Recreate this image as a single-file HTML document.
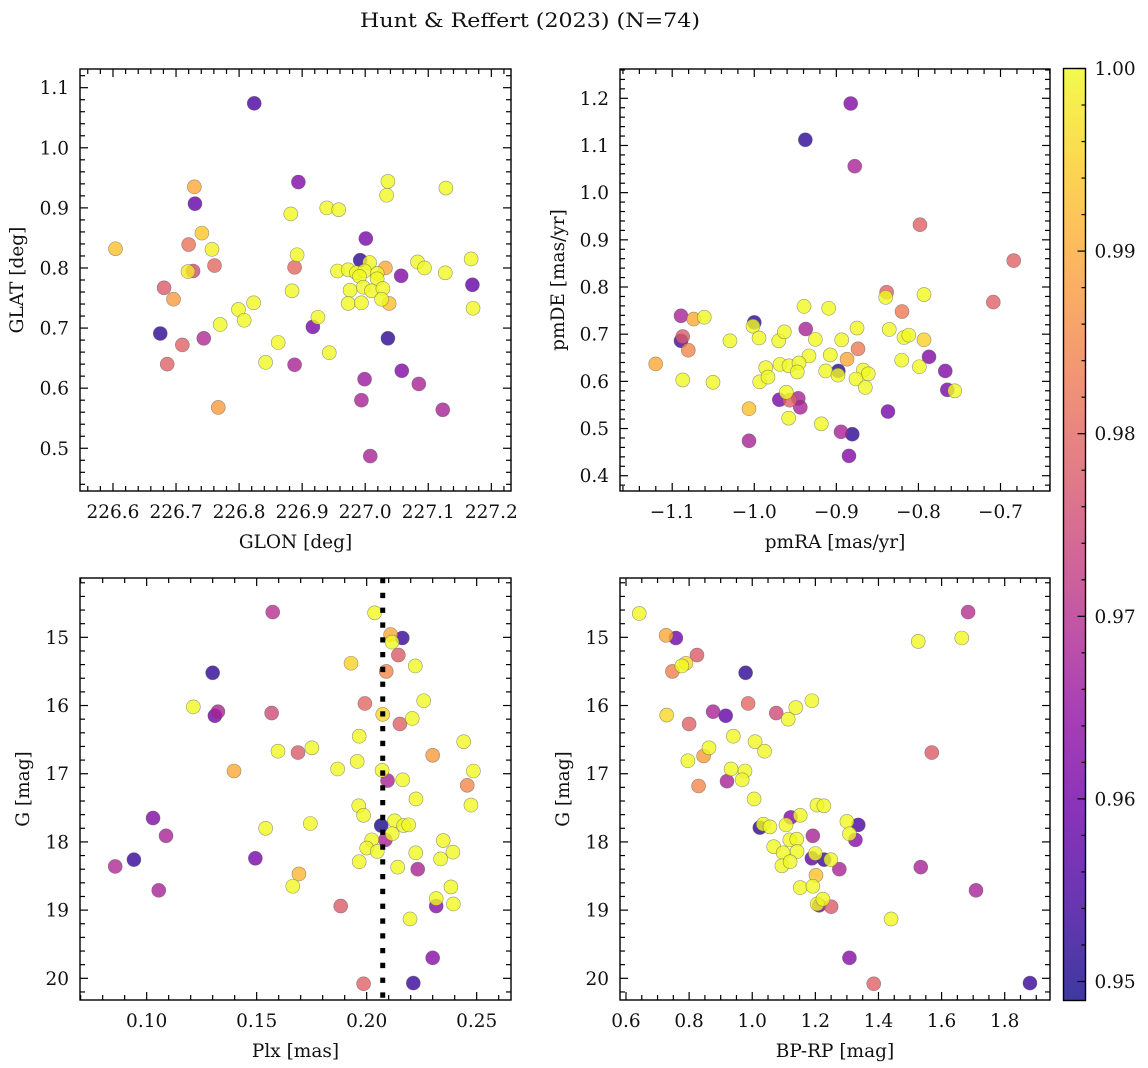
<!DOCTYPE html>
<html>
<head>
<meta charset="utf-8">
<style>
html,body{margin:0;padding:0;background:#fff;}
svg{display:block;}
text{font-family:"DejaVu Serif","Liberation Serif",serif;fill:#111;}
</style>
</head>
<body>
<svg id="fig" width="1148" height="1068" viewBox="0 0 1148 1068" xmlns="http://www.w3.org/2000/svg">
  <rect x="0" y="0" width="1148" height="1068" fill="#fff"/>
  <text x="530" y="27" text-anchor="middle" font-size="20" textLength="340" lengthAdjust="spacingAndGlyphs">Hunt &amp; Reffert (2023) (N=74)</text>
</svg>
<script>
// ---- data: [x, y, membership probability] ----
const skyStars = [
[226.824,1.074,.955],[226.729,0.935,.990],[226.730,0.907,.958],[226.741,0.858,.994],
[226.604,0.832,.993],[226.720,0.839,.982],[226.757,0.831,.999],[226.761,0.804,.980],
[226.727,0.795,.975],[226.719,0.794,.998],[226.681,0.767,.978],[226.696,0.748,.988],
[226.675,0.691,.952],[226.710,0.672,.979],[226.686,0.640,.979],[226.744,0.683,.969],
[226.770,0.706,1],[226.799,0.731,1],[226.808,0.713,1],[226.823,0.742,1],
[226.767,0.568,.988],[226.842,0.643,1],[226.862,0.676,1],[226.882,0.890,1],
[226.894,0.943,.962],[226.892,0.822,1],[226.888,0.801,.980],[226.884,0.762,1],
[226.888,0.639,.968],[226.939,0.900,1],[226.958,0.897,1],[226.925,0.718,1],
[226.917,0.702,.961],[226.943,0.659,1],[227.001,0.849,.961],[226.992,0.813,.952],
[227.007,0.809,1],[227.032,0.800,.990],[226.956,0.795,1],[226.973,0.797,1],
[226.986,0.792,1],[226.999,0.795,1],[227.019,0.791,1],[226.991,0.786,1],
[227.019,0.782,1],[226.976,0.763,1],[226.997,0.768,1],[227.010,0.762,1],
[227.028,0.766,1],[226.973,0.741,1],[226.994,0.742,1],[227.026,0.748,1],
[227.038,0.741,.993],[227.036,0.944,1],[227.034,0.921,1],[227.057,0.787,.962],
[227.036,0.683,.952],[227.083,0.810,1],[227.094,0.800,1],[227.128,0.933,1],
[227.127,0.792,1],[227.168,0.815,1],[227.170,0.772,.958],[227.171,0.733,1],
[227.058,0.629,.962],[226.999,0.615,.966],[226.994,0.580,.968],[227.085,0.607,.968],
[227.123,0.564,.968],[227.008,0.487,.968]
];
const pmStars = [
[-0.8825,1.189,.962],[-0.9378,1.112,.952],[-0.8776,1.056,.968],[-0.7981,0.932,.979],
[-0.6839,0.856,.979],[-0.7088,0.768,.979],[-0.8387,0.789,.979],[-0.8399,0.778,1],
[-0.7932,0.784,1],[-0.8200,0.748,.983],[-0.9394,0.759,1],[-0.9093,0.755,1],
[-1.0893,0.739,.968],[-1.0738,0.732,.990],[-1.0609,0.736,1],[-1.0000,0.725,.952],
[-1.0016,0.717,1],[-0.9373,0.711,.968],[-0.8748,0.713,1],[-0.8355,0.710,1],
[-1.0872,0.695,.978],[-1.0893,0.686,.955],[-1.0804,0.666,.985],[-1.0296,0.686,1],
[-0.9942,0.692,1],[-0.9702,0.686,1],[-0.9634,0.705,1],[-0.9256,0.689,1],
[-0.8935,0.688,1],[-0.8736,0.669,.983],[-0.8176,0.693,1],[-0.8118,0.698,1],
[-0.7932,0.688,.995],[-0.9333,0.654,1],[-0.9074,0.656,1],[-0.8870,0.647,.990],
[-1.1201,0.637,.990],[-0.9861,0.629,1],[-0.9687,0.636,1],[-0.9577,0.633,1],
[-0.9455,0.639,1],[-0.9476,0.620,1],[-0.9130,0.622,1],[-0.8976,0.622,.952],
[-0.8980,0.613,1],[-0.8204,0.645,1],[-0.7989,0.631,1],[-0.7871,0.652,.962],
[-0.7673,0.622,.962],[-0.7648,0.582,.961],[-0.7558,0.580,1],[-0.8672,0.624,1],
[-0.8611,0.616,1],[-0.8761,0.605,1],[-0.8647,0.587,1],[-1.0872,0.603,1],
[-1.0503,0.598,1],[-0.9934,0.599,1],[-0.9833,0.609,1],[-0.9610,0.577,1],
[-0.9695,0.561,.961],[-0.9568,0.560,.979],[-0.9464,0.564,.968],[-0.9439,0.545,.968],
[-1.0064,0.542,.993],[-0.9581,0.522,1],[-0.9183,0.510,1],[-0.8371,0.536,.961],
[-0.8943,0.493,.968],[-0.8806,0.488,.952],[-0.8846,0.442,.962],[-1.0064,0.474,.968]
];
const plxStars = [
[0.1573,14.63,.970],[0.1300,15.52,.952],[0.1212,16.02,1],[0.1324,16.09,.968],
[0.1310,16.15,.960],[0.1568,16.11,.975],[0.1597,16.67,1],[0.1688,16.69,.978],
[0.1397,16.96,.990],[0.1029,17.65,.962],[0.1088,17.91,.968],[0.0942,18.26,.953],
[0.0857,18.36,.969],[0.1055,18.71,.968],[0.1541,17.80,1],[0.1494,18.24,.961],
[0.1692,18.47,.992],[0.1664,18.65,1],[0.2036,14.64,1],[0.2109,14.96,.990],
[0.2162,15.01,.953],[0.2115,15.07,1],[0.2144,15.26,.978],[0.1929,15.38,.995],
[0.2221,15.42,1],[0.2089,15.50,.985],[0.2259,15.93,1],[0.1992,15.97,.980],
[0.2073,16.13,.996],[0.2151,16.27,.979],[0.2207,16.19,1],[0.1966,16.45,1],
[0.2441,16.53,1],[0.1751,16.62,1],[0.2300,16.73,.988],[0.1957,16.82,1],
[0.1868,16.93,1],[0.2070,16.95,1],[0.2485,16.96,1],[0.2095,17.10,.968],
[0.2164,17.09,1],[0.2457,17.17,.985],[0.2224,17.37,1],[0.1964,17.47,1],
[0.2474,17.46,1],[0.1986,17.61,1],[0.1744,17.73,1],[0.2066,17.76,.950],
[0.2127,17.69,1],[0.2168,17.76,1],[0.2191,17.75,1],[0.2116,17.88,1],
[0.2085,17.97,.968],[0.2023,17.97,1],[0.2000,18.09,1],[0.2048,18.14,1],
[0.2348,17.98,1],[0.2223,18.16,1],[0.2392,18.15,1],[0.2336,18.25,1],
[0.1966,18.29,1],[0.2141,18.37,1],[0.2232,18.40,.968],[0.2383,18.66,1],
[0.2316,18.83,1],[0.2316,18.94,.963],[0.2394,18.91,1],[0.1882,18.94,.978],
[0.2197,19.13,1],[0.2300,19.70,.963],[0.1986,20.08,.979],[0.2212,20.07,.953]
];
const cmdStars = [
[0.642,14.65,1],[0.727,14.97,.990],[0.758,15.01,.960],[0.825,15.26,.978],
[0.790,15.38,.996],[0.777,15.42,1],[0.747,15.50,.984],[0.979,15.52,.952],
[0.729,16.14,.996],[0.800,16.27,.979],[0.876,16.09,.968],[0.916,16.15,.958],
[0.987,15.97,.980],[1.076,16.11,.975],[1.114,16.20,1],[1.138,16.03,1],
[1.189,15.93,1],[0.940,16.45,1],[1.009,16.53,1],[1.039,16.67,1],
[0.863,16.62,1],[0.846,16.74,.988],[0.796,16.81,1],[0.933,16.93,1],
[0.977,16.96,1],[0.968,17.09,1],[0.920,17.11,.968],[0.830,17.18,.985],
[1.006,17.37,1],[1.205,17.46,1],[1.227,17.47,1],[1.122,17.64,.962],
[1.152,17.61,1],[1.024,17.79,.952],[1.035,17.74,1],[1.056,17.78,1],
[1.107,17.75,1],[1.300,17.70,1],[1.336,17.75,.955],[1.308,17.88,1],
[1.327,17.97,.963],[1.192,17.91,.968],[1.068,18.07,1],[1.119,17.97,1],
[1.141,17.96,1],[1.098,18.16,1],[1.142,18.14,1],[1.094,18.35,1],
[1.120,18.29,1],[1.189,18.24,.958],[1.200,18.17,1],[1.228,18.26,.953],
[1.249,18.26,1],[1.276,18.40,.968],[1.202,18.49,.993],[1.152,18.67,1],
[1.192,18.65,1],[1.212,18.93,.960],[1.206,18.91,1],[1.224,18.84,1],
[1.250,18.95,.978],[1.526,15.06,1],[1.664,15.01,1],[1.684,14.63,.970],
[1.569,16.69,.978],[1.440,19.13,1],[1.534,18.37,.968],[1.709,18.71,.968],
[1.308,19.70,.963],[1.385,20.08,.979],[1.880,20.07,.953]
];
const plxCut = [0.2073];
const colorLimits = [0.94896, 1.0];
const colorbarTicks = [0.95, 0.96, 0.97, 0.98, 0.99, 1.00];

// ---- plasma colormap ----
const plasmaStops = ["#0d0887","#41049d","#6a00a8","#8f0da4","#b12a90","#cc4778","#e16462","#f2844b","#fca636","#fcce25","#f0f921"];
function hex2rgb(h){return [parseInt(h.slice(1,3),16),parseInt(h.slice(3,5),16),parseInt(h.slice(5,7),16)];}
function plasma(t){
  t=Math.max(0,Math.min(1,t));
  const f=t*10, i=Math.min(9,Math.floor(f)), r=f-i;
  const a=hex2rgb(plasmaStops[i]), b=hex2rgb(plasmaStops[i+1]);
  return "rgb("+a.map((v,k)=>Math.round(v+(b[k]-v)*r)).join(",")+")";
}
function colorOf(p){return plasma((p-colorLimits[0])/(colorLimits[1]-colorLimits[0]));}

const NS="http://www.w3.org/2000/svg";
const svg=document.getElementById("fig");
function mk(tag,attrs,parent){
  const e=document.createElementNS(NS,tag);
  for(const k in attrs) e.setAttribute(k,attrs[k]);
  (parent||svg).appendChild(e);
  return e;
}
function fmt(v,dec){const s=Math.abs(v).toFixed(dec);return (v<-1e-9?"\u2212":"")+s;}
function tickVals(min,max,step){
  const out=[];const k0=Math.ceil(min/step-1e-6),k1=Math.floor(max/step+1e-6);
  for(let k=k0;k<=k1;k++) out.push(+(k*step).toFixed(6));
  return out;
}
const FS=18.5;

function panel(cfg){
  const g=mk("g",{});
  
  
  const L=cfg.box[0],T=cfg.box[1],R=cfg.box[2],B=cfg.box[3];
  const sx=v=>L+(v-cfg.xr[0])/(cfg.xr[1]-cfg.xr[0])*(R-L);
  const sy=cfg.invY ? (v=>T+(v-cfg.yr[0])/(cfg.yr[1]-cfg.yr[0])*(B-T))
                    : (v=>B-(v-cfg.yr[0])/(cfg.yr[1]-cfg.yr[0])*(B-T));
  const clipId="clip-"+cfg.name;
  const cp=mk("clipPath",{id:clipId},g);
  mk("rect",{x:L,y:T,width:R-L,height:B-T},cp);
  const pts=mk("g",{"clip-path":"url(#"+clipId+")"},g);
  
  
  const sorted=cfg.data.slice().sort((a,b)=>a[2]-b[2]);
  sorted.forEach(d=>{
    const c=mk("circle",{cx:sx(d[0]).toFixed(2),cy:sy(d[1]).toFixed(2),r:7,fill:colorOf(d[2]),"fill-opacity":0.8,stroke:"#555","stroke-opacity":0.6,"stroke-width":0.6},pts);
    
    
  });
  if(cfg.vline){
    cfg.vline.forEach(v=>{
      const ln=mk("line",{x1:sx(v),x2:sx(v),y1:T,y2:B,stroke:"#000","stroke-width":5,"stroke-dasharray":"5.3 9.5"},g);
      
      
    });
  }
  const tk=mk("g",{stroke:"#000","stroke-width":1.2},g);
  
  
  tickVals(cfg.xr[0],cfg.xr[1],cfg.xMinor).forEach(v=>{
    const x=sx(v);
    const isMaj=Math.abs(v/cfg.xMajor-Math.round(v/cfg.xMajor))<1e-4;
    const len=isMaj?8:5;
    mk("line",{x1:x,x2:x,y1:B,y2:B-len},tk);
    mk("line",{x1:x,x2:x,y1:T,y2:T+len},tk);
  });
  tickVals(cfg.yr[0],cfg.yr[1],cfg.yMinor).forEach(v=>{
    const y=sy(v);
    const isMaj=Math.abs(v/cfg.yMajor-Math.round(v/cfg.yMajor))<1e-4;
    const len=isMaj?8:5;
    mk("line",{x1:L,x2:L+len,y1:y,y2:y},tk);
    mk("line",{x1:R,x2:R-len,y1:y,y2:y},tk);
  });
  mk("rect",{x:L,y:T,width:R-L,height:B-T,fill:"none",stroke:"#000","stroke-width":1.4},g);
  tickVals(cfg.xr[0],cfg.xr[1],cfg.xMajor).forEach(v=>{
    const t=mk("text",{x:sx(v),y:B+27,"text-anchor":"middle","font-size":FS},g);
    t.textContent=fmt(v,cfg.xDec);
    
    
  });
  tickVals(cfg.yr[0],cfg.yr[1],cfg.yMajor).forEach(v=>{
    const t=mk("text",{x:L-11,y:sy(v)+6.5,"text-anchor":"end","font-size":FS},g);
    t.textContent=fmt(v,cfg.yDec);
    
    
  });
  const xl=mk("text",{x:(L+R)/2,y:B+57,"text-anchor":"middle","font-size":FS},g);
  xl.textContent=cfg.xlabel;
  
  
  const yl=mk("text",{x:0,y:0,"text-anchor":"middle","font-size":FS,transform:"translate("+cfg.ylx+","+((T+B)/2)+") rotate(-90)"},g);
  yl.textContent=cfg.ylabel;
  
  
}

panel({name:"sky-panel",box:[80,69,511,491],data:skyStars,xr:[226.5477,227.2312],yr:[0.4289,1.1311],
  xMajor:0.1,xMinor:0.02,yMajor:0.1,yMinor:0.02,xDec:1,yDec:1,xlabel:"GLON [deg]",ylabel:"GLAT [deg]",ylx:23});
panel({name:"proper-motion-panel",box:[620,69,1050,491],data:pmStars,xr:[-1.1636,-0.6397],yr:[0.3676,1.2621],
  xMajor:0.1,xMinor:0.02,yMajor:0.1,yMinor:0.02,xDec:1,yDec:1,xlabel:"pmRA [mas/yr]",ylabel:"pmDE [mas/yr]",ylx:564});
panel({name:"parallax-panel",box:[80,578,511,1000],data:plxStars,xr:[0.0697,0.2656],yr:[14.13,20.318],invY:true,
  xMajor:0.05,xMinor:0.01,yMajor:1,yMinor:0.2,xDec:2,yDec:0,xlabel:"Plx [mas]",ylabel:"G [mag]",ylx:29,vline:plxCut});
panel({name:"cmd-panel",box:[620,578,1050,1000],data:cmdStars,xr:[0.581,1.9435],yr:[14.13,20.318],invY:true,
  xMajor:0.2,xMinor:0.05,yMajor:1,yMinor:0.2,xDec:1,yDec:0,xlabel:"BP-RP [mag]",ylabel:"G [mag]",ylx:569});

// ---- colorbar ----
(function(){
  const L=1063.5,R=1085.5,T=68.5,B=1000.5;
  const g=mk("g",{});
  
  
  const defs=mk("defs",{},g);
  const lg=mk("linearGradient",{id:"cbgrad",x1:0,y1:1,x2:0,y2:0},defs);
  for(let i=0;i<=40;i++){mk("stop",{offset:(i/40),"stop-color":plasma(i/40)},lg);}
  mk("rect",{x:L,y:T,width:R-L,height:B-T,fill:"url(#cbgrad)","fill-opacity":0.8},g);
  const sy=v=>B-(v-colorLimits[0])/(colorLimits[1]-colorLimits[0])*(B-T);
  const tk=mk("g",{stroke:"#000","stroke-width":1.2},g);
  tickVals(colorLimits[0],colorLimits[1],0.002).forEach(v=>{
    const maj=Math.abs(v*100-Math.round(v*100))<1e-4;
    mk("line",{x1:R,x2:R-(maj?8:4),y1:sy(v),y2:sy(v)},tk);
  });
  mk("rect",{x:L,y:T,width:R-L,height:B-T,fill:"none",stroke:"#000","stroke-width":1.4},g);
  colorbarTicks.forEach(v=>{
    const t=mk("text",{x:R+9,y:sy(v)+6.5,"font-size":FS},g);
    t.textContent=v.toFixed(2);
    
    
  });
})();
</script>
</body>
</html>
